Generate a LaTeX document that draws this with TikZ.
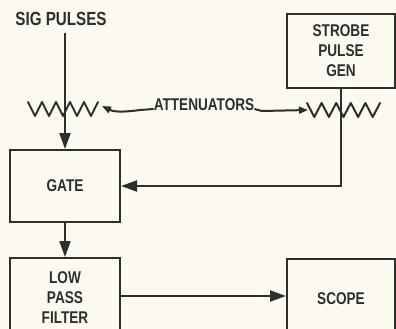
\documentclass[tikz,border=0pt]{standalone}
\usepackage{fontspec}
\setmainfont{Liberation Sans}[FakeStretch=0.8]
\usetikzlibrary{arrows.meta}
\definecolor{paper}{HTML}{FBF9F0}
\definecolor{ink}{HTML}{2E2E2E}
\begin{document}
\begin{tikzpicture}[x=1pt,y=-1pt,
  every node/.style={text=ink,font=\fontsize{17}{20}\selectfont\bfseries},
  blk/.style={draw=ink,line width=2pt,minimum width=110pt,align=center,inner sep=0pt},
  wire/.style={draw=ink,line width=2pt},
  bigarr/.style={wire,-{Triangle[length=16pt,width=11pt]}},
  smallarr/.style={draw=ink,line width=2pt,-{Triangle[length=9pt,width=7pt]}},
  zig/.style={draw=ink,line width=2pt,line join=round,line cap=round}]
\useasboundingbox[fill=paper] (0,0) rectangle (396,329);
% nodes
\node[font=\fontsize{19}{20}\selectfont\bfseries] (sig) at (61,19) {SIG PULSES};
\node[blk,minimum width=108pt,minimum height=73pt] (strobe) at (341,51) {STROBE\\PULSE\\GEN};
\node[blk,minimum height=72pt] (gate) at (65,186) {GATE};
\node[blk,minimum height=80pt] (lpf) at (65,298) {LOW\\PASS\\FILTER};
\node[blk,minimum width=108pt,minimum height=80pt] (scope) at (341,299) {SCOPE};
\node[inner sep=0pt,font=\fontsize{17}{20}\selectfont\bfseries] (att) at (204,105) {ATTENUATORS};
% resistors
\coordinate (lend) at (98,102);
\coordinate (rstart) at (307,103);
\draw[zig] (28,102) \foreach \i in {1,...,10} {-- ({28+\i*7},{ifthenelse(mod(\i,2)==1,116,102)})};
\draw[zig] (rstart) \foreach \i in {1,...,10} {-- ({307+\i*7.3},{ifthenelse(mod(\i,2)==1,117,103)})};
% signal path
\draw[bigarr] (sig.south -| gate.north) ++(0,4) -- (gate.north);
\coordinate (corner) at (strobe.south |- gate.east);
\draw[bigarr] (strobe.south) -- (corner) -- (gate.east);
\draw[bigarr] (gate.south) -- (lpf.north);
\draw[bigarr] (lpf.east |- 0,296) -- (scope.west |- 0,296);
% attenuator arrows
\draw[smallarr] ([yshift=-4pt]att.west) -- (140,110) .. controls (118,113) and (112,111) .. (102,106);
\draw[smallarr] ([yshift=-4pt]att.east) -- (262,111) -- (308,110);
\end{tikzpicture}
\end{document}
